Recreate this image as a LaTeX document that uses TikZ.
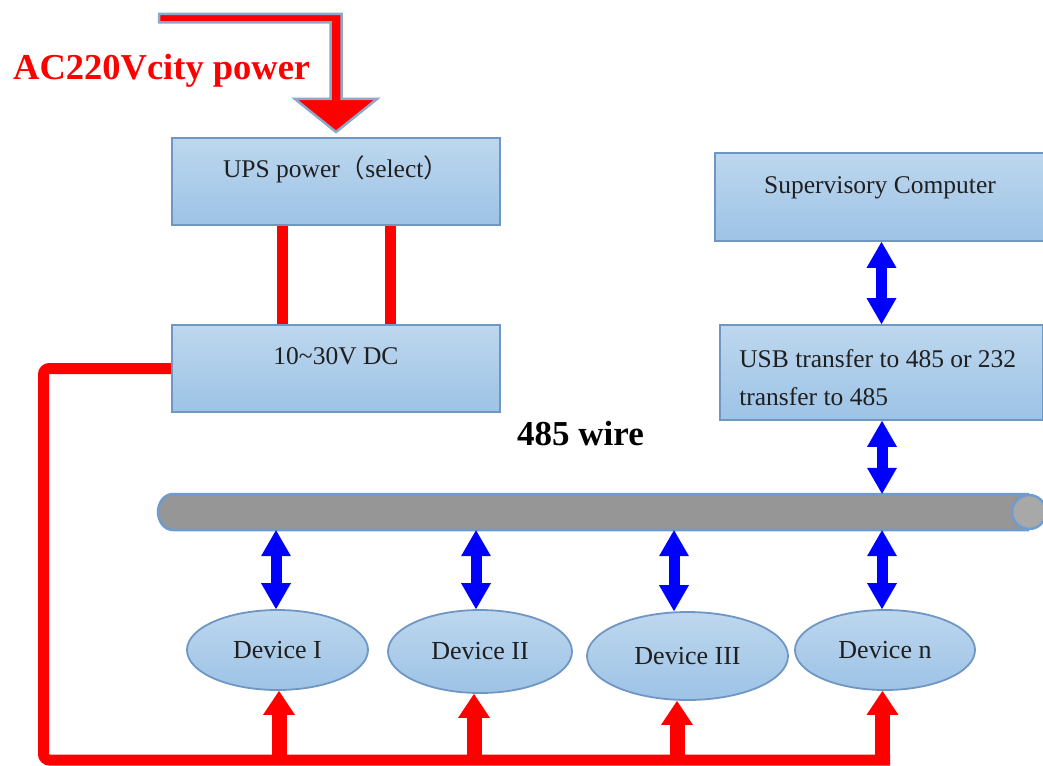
\documentclass[tikz,border=0pt]{standalone}
\usepackage{fontspec}
\setmainfont{Liberation Serif}
\newfontfamily\cjk{Noto Sans CJK SC}
\usetikzlibrary{arrows.meta,shapes.geometric,calc}
\pgfdeclarelayer{background}
\pgfsetlayers{background,main}
\definecolor{boxtop}{HTML}{BDD7EE}
\definecolor{boxbot}{HTML}{9DC3E6}
\definecolor{boxline}{HTML}{7096C4}
\definecolor{busfill}{HTML}{969696}
\definecolor{busend}{HTML}{A8A8A8}
\definecolor{busline}{HTML}{6E9BD0}
\definecolor{acline}{HTML}{8CA8CC}
\definecolor{pwr}{HTML}{FF0000}
\definecolor{dat}{HTML}{0000FF}
\begin{document}
\begin{tikzpicture}[x=1pt,y=-1pt,
  box/.style={draw=boxline, line width=1.8pt, top color=boxtop, bottom color=boxbot,
    minimum width=328pt, minimum height=87pt, inner sep=0pt, text height=18pt, text depth=26pt,
    font=\fontsize{25.5}{38}\selectfont, text=black!88},
  dev/.style={ellipse, draw=boxline, line width=1.8pt, top color=boxtop, bottom color=boxbot,
    inner sep=0pt, font=\fontsize{26}{30}\selectfont, text=black!88},
  dataarrow/.style={dat, line width=11pt,
    {Triangle[width=30pt,length=26pt,line width=0pt]}-{Triangle[width=30pt,length=26pt,line width=0pt]}},
  pwrarrow/.style={pwr, line width=15pt, -{Triangle[width=32pt,length=24pt,line width=0pt]}},
  pwrline/.style={pwr, line width=11pt},
  lbl/.style={anchor=base west, inner sep=0pt},
]
\useasboundingbox (0,0) rectangle (1043,765);

% boxes
\node[box] (ups) at (336,181.5) {UPS power{\cjk （}select{\cjk ）}};
\node[box] (dc) at (336,368.5) {10\textasciitilde30V DC};
\node[box, minimum width=330pt, minimum height=88pt] (comp) at (880,197) {Supervisory Computer};
\node[box, minimum width=323pt, minimum height=95pt] (usb) at (881.5,372.5) {};
\node[lbl, align=left, font=\fontsize{25.5}{38}\selectfont, text=black!88] (usbt)
  at ([xshift=20pt,yshift=15pt]usb.south west) {USB transfer to 485 or 232\\transfer to 485};

% devices
\node[dev, minimum width=181pt, minimum height=80pt] (d1) at (277.5,650) {Device I};
\node[dev, minimum width=184pt, minimum height=83pt] (d2) at (480,651.5) {Device II};
\node[dev, minimum width=201pt, minimum height=88pt] (d3) at (687.5,656) {Device III};
\node[dev, minimum width=180pt, minimum height=80pt] (d4) at (885,650) {Device n};

% 485 bus (cylinder)
\node[minimum width=885pt, minimum height=36pt, inner sep=0pt] (bus) at (600.5,512) {};
\path[fill=busfill, draw=busline, line width=2.5pt]
  (1029,494) -- (173,494) .. controls (164,494) and (158,503) .. (158,512)
  .. controls (158,521) and (164,530) .. (173,530) -- (1029,530);
\path[fill=busend, draw=busline, line width=2.5pt] (1029,512) ellipse [x radius=17, y radius=17];

% texts
\node[lbl, text=pwr, font=\fontsize{36.5}{40}\selectfont\bfseries] (ac) at (13,80) {AC220Vcity power};
\node[lbl, font=\fontsize{35}{40}\selectfont\bfseries] (wire) at (517,445) {485 wire};

% AC input arrow
\coordinate (acs) at (159,18);
\filldraw[fill=pwr, draw=acline, line width=2.5pt, line join=miter]
  (159,14) -- (341.5,14) -- (341.5,99) -- (377,99) -- (336,132) -- (295,99)
  -- (330.5,99) -- (330.5,22.5) -- (159,22.5) -- cycle;

% data arrows
\coordinate (x1) at (276,0);
\coordinate (x2) at (476,0);
\coordinate (x3) at (674,0);
\coordinate (x4) at (882,0);
\draw[dataarrow] (usb.north |- comp.south) -- (usb.north);
\draw[dataarrow] (x4 |- usb.south) -- (x4 |- bus.north);
\draw[dataarrow] (x1 |- bus.south) -- (x1 |- d1.north);
\draw[dataarrow] (x2 |- bus.south) -- (x2 |- d2.north);
\draw[dataarrow] (x3 |- bus.south) -- (x3 |- d3.north);
\draw[dataarrow] (x4 |- bus.south) -- (x4 |- d4.north);

% power wiring
\coordinate (pl) at (43.5,760);
\coordinate (pe) at (890,760);
\coordinate (r1) at (279,762);
\coordinate (r2) at (474,762);
\coordinate (r3) at (677,762);
\coordinate (r4) at (882.5,762);
\begin{pgfonlayer}{background}
\draw[pwrline] ([xshift=-53.5pt]ups.south) -- ([xshift=-53.5pt]dc.north);
\draw[pwrline] ([xshift=54pt]ups.south) -- ([xshift=54pt]dc.north);
\draw[pwrline, rounded corners=6pt] (dc.west) -- (dc.west -| pl) -- (pl) -- (pe);
\end{pgfonlayer}
\draw[pwrarrow] (r1) -- (r1 |- d1.south);
\draw[pwrarrow] (r2) -- (r2 |- d2.south);
\draw[pwrarrow] (r3) -- (r3 |- d3.south);
\draw[pwrarrow] (r4) -- (r4 |- d4.south);
\end{tikzpicture}
\end{document}
